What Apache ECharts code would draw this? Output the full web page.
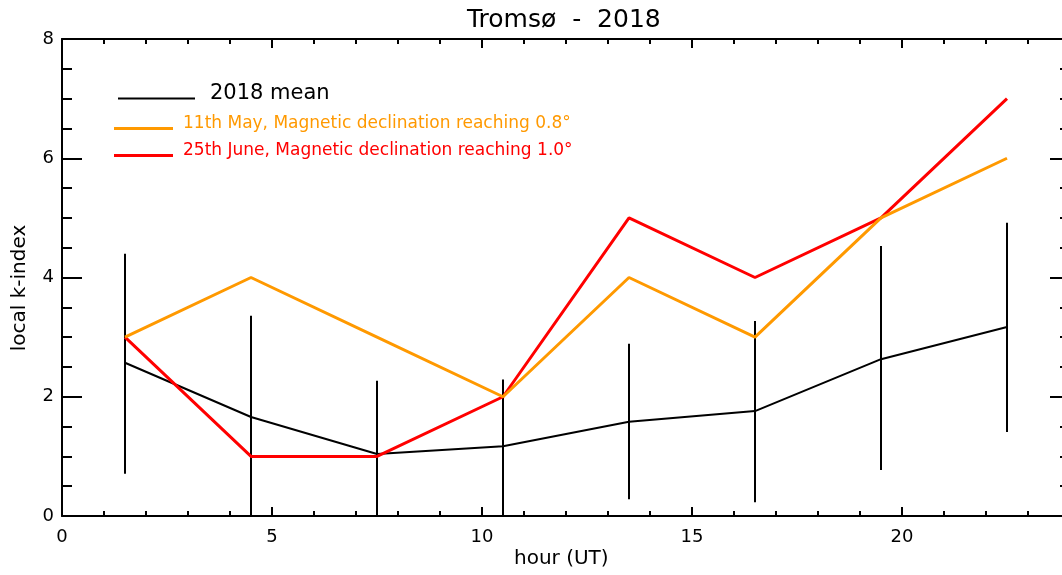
<!DOCTYPE html>
<html>
<head>
<meta charset="utf-8">
<script src="https://cdn.jsdelivr.net/npm/echarts@6/dist/echarts.min.js"></script>
<style>html,body{margin:0;padding:0;background:#fff;overflow:hidden;width:1062px;height:575px}#c{width:1112px;height:575px}</style>
</head>
<body>
<div id="c"></div>
<script>
var hours = [1.5, 4.5, 7.5, 10.5, 13.5, 16.5, 19.5, 22.5];
var meanK = [2.57, 1.66, 1.04, 1.17, 1.58, 1.76, 2.63, 3.17];
var errLow = [0.71, 0.0, 0.0, 0.0, 0.28, 0.23, 0.77, 1.41];
var errHigh = [4.40, 3.36, 2.27, 2.29, 2.89, 3.27, 4.53, 4.92];
var may11 = [3, 4, 3, 2, 4, 3, 5, 6];
var jun25 = [3, 1, 1, 2, 5, 4, 5, 7];
var names = ['2018 mean', '11th May, Magnetic declination reaching 0.8°', '25th June, Magnetic declination reaching 1.0°'];

function pairs(v){ return hours.map(function(h,i){ return [h, v[i]]; }); }
var errData = hours.map(function(h,i){ return [h, errLow[i], errHigh[i]]; });

var FONT = 'DejaVu Sans';
var axisLineStyle = {color:'#000', width:2};
function xAx(pos, showLabel){
  return {
    type:'value', position:pos, min:0, max:25, interval:5,
    axisLine:{show:true, onZero:false, lineStyle:axisLineStyle},
    axisTick:{show:true, inside:true, length:9, lineStyle:{color:'#000', width:2}},
    minorTick:{show:true, splitNumber:5, length:5, lineStyle:{color:'#000', width:2}},
    splitLine:{show:false}, minorSplitLine:{show:false},
    axisLabel:{show:showLabel, fontFamily:FONT, fontSize:18, color:'#000', margin:12, showMaxLabel:false}
  };
}
function yAx(pos, showLabel, offset){
  return {
    type:'value', position:pos, offset:offset, min:0, max:8, interval:2,
    axisLine:{show:true, onZero:false, lineStyle:axisLineStyle},
    axisTick:{show:true, inside:true, length:20, lineStyle:{color:'#000', width:2}},
    minorTick:{show:true, splitNumber:4, length:10, lineStyle:{color:'#000', width:2}},
    splitLine:{show:false}, minorSplitLine:{show:false},
    axisLabel:{show:showLabel, fontFamily:FONT, fontSize:18, color:'#000', margin:8}
  };
}
function leg(name, top, left, w, h, fs, color, pad){
  return {
    data:[name], top:top, left:left, padding:0, icon:'rect', itemWidth:w, itemHeight:h, selectedMode:false,
    formatter:function(n){ return '{t|' + n + '}'; },
    textStyle:{fontFamily:FONT, fontSize:fs, color:color, padding:[0,0,0,pad],
      rich:{t:{fontFamily:FONT, fontSize:fs, color:color, padding:[0,0,10,0]}}}
  };
}

var chart = echarts.init(document.getElementById('c'), null, {renderer:'canvas'});
chart.setOption({
  animation:false,
  backgroundColor:'#fff',
  title:{text:'Tromsø  -  2018', left:462, top:3, textStyle:{fontFamily:FONT, fontSize:25, fontWeight:'normal', color:'#000'}},
  grid:{left:62, top:39, width:1050, height:477},
  xAxis:[xAx('bottom', true), xAx('top', false)],
  yAxis:[yAx('left', true, 0), yAx('right', false, -42)],
  legend:[
    leg(names[0], 83, 118, 77, 2, 21, '#000', 10),
    leg(names[1], 115, 114, 59, 3, 17, '#FF9900', 5),
    leg(names[2], 142, 114, 59, 3, 17, '#FF0000', 5)
  ],
  graphic:[
    {type:'text', left:514, top:549, style:{text:'hour (UT)', fontFamily:FONT, fontSize:20, fill:'#000'}},
    {type:'text', x:10, y:288, rotation:Math.PI/2, style:{text:'local k-index', fontFamily:FONT, fontSize:20, fill:'#000', align:'center', verticalAlign:'top'}}
  ],
  series:[
    {type:'custom', name:'err', data:errData, encode:{x:0, y:[1,2]}, z:1,
      renderItem:function(params, api){
        var p1 = api.coord([api.value(0), api.value(1)]);
        var p2 = api.coord([api.value(0), api.value(2)]);
        return {type:'line', shape:{x1:p1[0], y1:p1[1], x2:p2[0], y2:p2[1]}, style:{stroke:'#000', lineWidth:2}};
      }},
    {type:'line', name:names[0], data:pairs(meanK), symbol:'none', z:2, color:'#000', lineStyle:{color:'#000', width:2}},
    {type:'line', name:names[2], data:pairs(jun25), symbol:'none', z:3, color:'#FF0000', lineStyle:{color:'#FF0000', width:3}},
    {type:'line', name:names[1], data:pairs(may11), symbol:'none', z:4, color:'#FF9900', lineStyle:{color:'#FF9900', width:3}}
  ]
});
</script>
</body>
</html>
